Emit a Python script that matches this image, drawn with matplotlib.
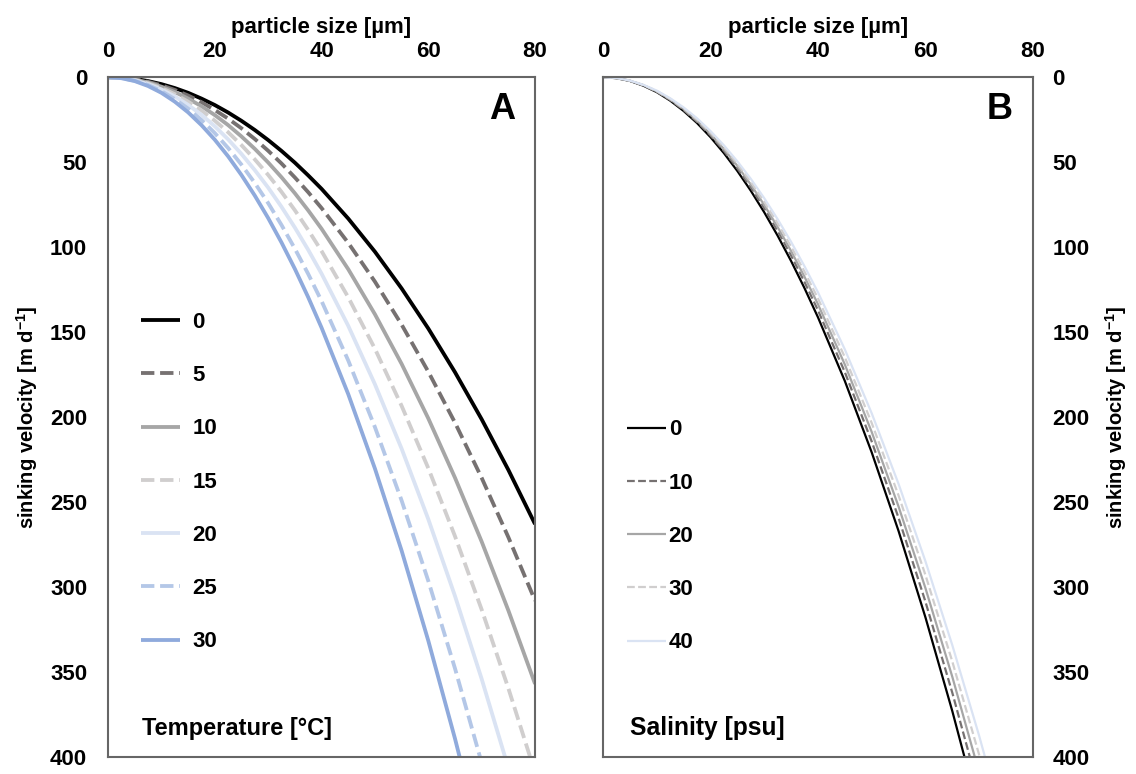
import matplotlib
matplotlib.use("Agg")
import matplotlib.pyplot as plt

plt.rcParams['font.family'] = ['Liberation Sans', 'DejaVu Sans']

# particle size [µm]
size = [0, 2.5, 5, 7.5, 10, 12.5, 15, 17.5, 20, 22.5, 25, 27.5, 30, 32.5, 35, 37.5,
        40, 45, 50, 55, 60, 65, 70, 75, 80]

# sinking velocity [m d-1], by temperature [°C]
temp_labels = ['0', '5', '10', '15', '20', '25', '30']
v_t0 = [0, 0.3, 1.0, 2.3, 4.1, 6.4, 9.2, 12.6, 16.4, 20.8, 25.7, 31.1, 37.0, 43.4, 50.3, 57.8,
        65.7, 83.2, 102.7, 124.3, 147.9, 173.6, 201.3, 231.1, 263.0]
v_t5 = [0, 0.3, 1.2, 2.7, 4.8, 7.5, 10.8, 14.7, 19.3, 24.4, 30.1, 36.4, 43.3, 50.8, 59.0, 67.7,
        77.0, 97.5, 120.3, 145.6, 173.3, 203.3, 235.8, 270.7, 308.0]
v_t10 = [0, 0.3, 1.4, 3.1, 5.6, 8.7, 12.6, 17.1, 22.3, 28.2, 34.9, 42.2, 50.2, 58.9, 68.3, 78.4,
         89.2, 113.0, 139.5, 168.7, 200.8, 235.7, 273.3, 313.8, 357.0]
v_t15 = [0, 0.4, 1.6, 3.6, 6.4, 10.0, 14.4, 19.6, 25.6, 32.4, 40.0, 48.4, 57.5, 67.5, 78.3, 89.9,
         102.3, 129.5, 159.8, 193.4, 230.1, 270.1, 313.3, 359.6, 409.2]
v_t20 = [0, 0.5, 1.8, 4.1, 7.2, 11.3, 16.3, 22.1, 28.9, 36.6, 45.2, 54.7, 65.0, 76.3, 88.5, 101.6,
         115.6, 146.3, 180.7, 218.6, 260.1, 305.3, 354.1, 406.5, 462.5]
v_t25 = [0, 0.5, 2.1, 4.6, 8.2, 12.9, 18.5, 25.2, 32.9, 41.7, 51.5, 62.3, 74.1, 87.0, 100.9, 115.8,
         131.7, 166.7, 205.9, 249.1, 296.4, 347.9, 403.5, 463.2, 527.0]
v_t30 = [0, 0.6, 2.3, 5.2, 9.2, 14.4, 20.7, 28.2, 36.8, 46.6, 57.6, 69.7, 82.9, 97.3, 112.8, 129.5,
         147.4, 186.5, 230.3, 278.6, 331.6, 389.2, 451.3, 518.1, 589.5]

# sinking velocity [m d-1], by salinity [psu]
sal_labels = ['0', '10', '20', '30', '40']
v_s0 = [0, 0.6, 2.2, 5.0, 8.8, 13.8, 19.9, 27.0, 35.3, 44.7, 55.2, 66.8, 79.5, 93.3, 108.2, 124.2,
        141.3, 178.8, 220.8, 267.1, 317.9, 373.1, 432.7, 496.7, 565.2]
v_s10 = [0, 0.5, 2.1, 4.8, 8.6, 13.4, 19.3, 26.3, 34.3, 43.4, 53.6, 64.9, 77.2, 90.6, 105.0, 120.6,
         137.2, 173.6, 214.4, 259.4, 308.7, 362.3, 420.2, 482.3, 548.8]
v_s20 = [0, 0.5, 2.1, 4.7, 8.4, 13.1, 18.8, 25.6, 33.4, 42.3, 52.2, 63.2, 75.2, 88.2, 102.3, 117.5,
         133.6, 169.1, 208.8, 252.7, 300.7, 352.9, 409.3, 469.9, 534.6]
v_s30 = [0, 0.5, 2.0, 4.6, 8.1, 12.7, 18.3, 24.9, 32.6, 41.2, 50.9, 61.6, 73.3, 86.0, 99.7, 114.5,
         130.2, 164.8, 203.5, 246.2, 293.0, 343.9, 398.9, 457.9, 521.0]
v_s40 = [0, 0.5, 2.0, 4.5, 7.9, 12.4, 17.8, 24.2, 31.7, 40.1, 49.5, 59.8, 71.2, 83.6, 96.9, 111.3,
         126.6, 160.2, 197.8, 239.4, 284.9, 334.3, 387.7, 445.1, 506.4]

temp_series = [v_t0, v_t5, v_t10, v_t15, v_t20, v_t25, v_t30]
sal_series = [v_s0, v_s10, v_s20, v_s30, v_s40]

temp_colors = ['#000000', '#767171', '#a6a6a6', '#d0cece', '#dae3f3', '#b4c7e7', '#8faadc']
temp_dashed = [False, True, False, True, False, True, False]
sal_colors = ['#000000', '#767171', '#a6a6a6', '#d0cece', '#dae3f3']
sal_dashed = [False, True, False, True, False]

frame = '#666666'
ylab = 'sinking velocity [m d$^{\\mathregular{-1}}$]'


def style_axes(ax, right=False):
    ax.set_xlim(0, 80)
    ax.set_ylim(400, 0)
    ax.set_xticks([0, 20, 40, 60, 80])
    ax.set_yticks(range(0, 401, 50))
    ax.xaxis.set_ticks_position('top')
    ax.xaxis.set_label_position('top')
    ax.tick_params(axis='x', length=0, pad=11, labelsize=16)
    for t in ax.get_xticklabels():
        t.set_fontweight('bold')
    if right:
        ax.yaxis.set_ticks_position('right')
        ax.yaxis.set_label_position('right')
        ax.tick_params(axis='y', length=0, pad=14, labelsize=16)
    else:
        ax.tick_params(axis='y', length=0, pad=15, labelsize=16)
    for t in ax.get_yticklabels():
        t.set_fontweight('bold')
    for s in ax.spines.values():
        s.set_color(frame)
        s.set_linewidth(1.5)
    ax.set_xlabel('particle size [µm]', fontsize=16, fontweight='bold', labelpad=6)
    ax.set_ylabel(ylab, fontsize=14.5, fontweight='bold', rotation=90,
                  labelpad=(10 if right else 7))


fig = plt.figure(figsize=(11.36, 7.74), dpi=100)
ax1 = fig.add_axes([0.0951, 0.022, 0.3759, 0.8783])
ax2 = fig.add_axes([0.5308, 0.022, 0.3785, 0.8783])

for vals, lab, c, d in zip(temp_series, temp_labels, temp_colors, temp_dashed):
    line, = ax1.plot(size, vals, color=c, lw=2.75, label=lab, solid_capstyle='butt')
    if d:
        line.set_dashes((3.5, 1.5))

for vals, lab, c, d in zip(sal_series, sal_labels, sal_colors, sal_dashed):
    line, = ax2.plot(size, vals, color=c, lw=1.6, label=lab, solid_capstyle='butt')
    if d:
        line.set_dashes((3.5, 1.5))

style_axes(ax1)
style_axes(ax2, right=True)

ax1.legend(loc='upper left', bbox_to_anchor=(0.031, 0.684), frameon=False,
           prop={'weight': 'bold', 'size': 16}, handlelength=1.75,
           handletextpad=0.55, labelspacing=1.45)
ax2.legend(loc='upper left', bbox_to_anchor=(0.009, 0.526), frameon=False,
           prop={'weight': 'bold', 'size': 16}, handlelength=1.75,
           handletextpad=0.13, labelspacing=1.45)

ax1.text(0.08, 0.025, 'Temperature [°C]', transform=ax1.transAxes, fontsize=17,
         fontweight='bold', ha='left', va='bottom')
ax2.text(0.063, 0.025, 'Salinity [psu]', transform=ax2.transAxes, fontsize=17.75,
         fontweight='bold', ha='left', va='bottom')
ax1.text(0.953, 0.978, 'A', transform=ax1.transAxes, fontsize=26,
         fontweight='bold', ha='right', va='top')
ax2.text(0.953, 0.978, 'B', transform=ax2.transAxes, fontsize=26,
         fontweight='bold', ha='right', va='top')

fig.savefig('out.png', dpi=100)
